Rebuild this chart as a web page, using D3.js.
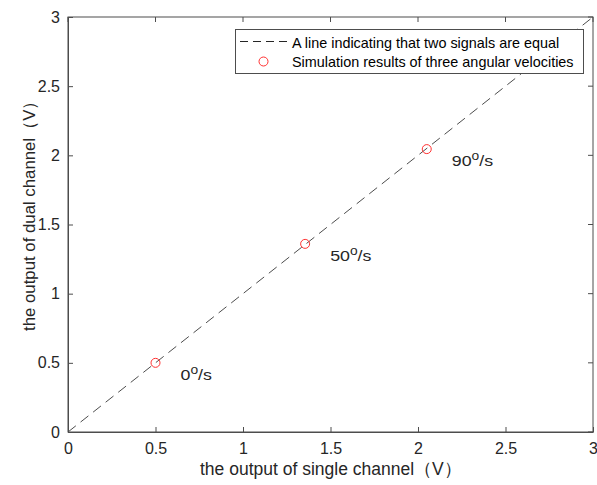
<!DOCTYPE html>
<html>
<head>
<meta charset="utf-8">
<script src="https://cdn.jsdelivr.net/npm/d3@7"></script>
<style>
  html, body { margin: 0; padding: 0; background: #fff; }
  svg { display: block; font-family: "Liberation Sans", Arial, sans-serif; }
</style>
</head>
<body>
<svg id="chart" width="597" height="485"></svg>
<script>
// Data
const xTicks = [0, 0.5, 1, 1.5, 2, 2.5, 3];
const yTicks = [0, 0.5, 1, 1.5, 2, 2.5, 3];
const equalLine = [0, 3];
const singleOutput = [0.5, 1.355, 2.05];
const dualOutput = [0.5, 1.36, 2.045];
const speedLabels = ["0", "50", "90"];
const legendLabels = ["A line indicating that two signals are equal", "Simulation results of three angular velocities"];

const svg = d3.select("#chart");
const margin = { left: 68, right: 4, top: 17, bottom: 53 };
const W = 597, H = 485;
const x = d3.scaleLinear().domain([0, 3]).range([margin.left, W - margin.right]);
const y = d3.scaleLinear().domain([0, 3]).range([H - margin.bottom, margin.top]);
const axisColor = "#4d4d4d";
const textColor = "#262626";

// Box
svg.append("rect")
  .attr("x", x(0)).attr("y", y(3))
  .attr("width", x(3) - x(0)).attr("height", y(0) - y(3))
  .attr("fill", "none").attr("stroke", axisColor).attr("stroke-width", 1);

// Axes, ticks inward
const xAxis = svg.append("g").attr("transform", `translate(0,${y(0)})`)
  .call(d3.axisBottom(x).tickValues(xTicks).tickFormat(d3.format("")).tickSizeInner(-5).tickSizeOuter(0).tickPadding(11));
const yAxis = svg.append("g").attr("transform", `translate(${x(0)},0)`)
  .call(d3.axisLeft(y).tickValues(yTicks).tickFormat(d3.format("")).tickSizeInner(-5).tickSizeOuter(0).tickPadding(8));
[xAxis, yAxis].forEach(g => {
  g.select(".domain").attr("stroke", axisColor);
  g.selectAll(".tick line").attr("stroke", axisColor);
  g.selectAll(".tick text").attr("fill", textColor).attr("font-size", 16)
    .attr("font-family", "Liberation Sans, Arial, sans-serif");
});
// top/right ticks
svg.append("g").selectAll("line").data(xTicks).join("line")
  .attr("x1", d => x(d)).attr("x2", d => x(d)).attr("y1", y(3)).attr("y2", y(3) + 5).attr("stroke", axisColor);
svg.append("g").selectAll("line").data(yTicks).join("line")
  .attr("y1", d => y(d)).attr("y2", d => y(d)).attr("x1", x(3)).attr("x2", x(3) - 5).attr("stroke", axisColor);

// Axis titles
svg.append("text").attr("x", 200).attr("y", 475)
  .attr("font-size", 17.5).attr("fill", textColor)
  .text("the output of single channel（V）");
svg.append("text").attr("transform", `translate(35,331) rotate(-90)`)
  .attr("font-size", 16.8).attr("fill", textColor)
  .text("the output of dual channel（V）");

// Equal line
svg.append("line")
  .attr("x1", x(equalLine[0])).attr("y1", y(equalLine[0]))
  .attr("x2", x(equalLine[1])).attr("y2", y(equalLine[1]))
  .attr("stroke", "#4d4d4d").attr("stroke-width", 1).attr("stroke-dasharray", "10,6");

// Points
const pts = singleOutput.map((v, i) => ({ x: v, y: dualOutput[i], label: speedLabels[i] }));
svg.append("g").selectAll("circle").data(pts).join("circle")
  .attr("cx", d => x(d.x)).attr("cy", d => y(d.y)).attr("r", 4.5)
  .attr("fill", "none").attr("stroke", "#ff3030").attr("stroke-width", 1);

// Speed labels
const lab = svg.append("g").selectAll("text").data(pts).join("text")
  .attr("transform", d => `translate(${x(d.x) + 25},${y(d.y) + 17}) scale(1.15,1)`)
  .attr("font-size", 15.5).attr("fill", textColor);
lab.append("tspan").text(d => d.label);
lab.append("tspan").attr("dy", -6).attr("font-size", 12).text("o");
lab.append("tspan").attr("dy", 6).text("/s");

// Legend
const lg = svg.append("g");
lg.append("rect").attr("x", 235.5).attr("y", 29.5).attr("width", 348).attr("height", 44)
  .attr("fill", "#fff").attr("stroke", axisColor).attr("stroke-width", 1);
lg.append("line").attr("x1", 240).attr("x2", 288).attr("y1", 41.5).attr("y2", 41.5)
  .attr("stroke", textColor).attr("stroke-dasharray", "8,5");
lg.append("circle").attr("cx", 263.5).attr("cy", 61.5).attr("r", 4.5)
  .attr("fill", "none").attr("stroke", "#ff3030");
lg.selectAll("text").data(legendLabels).join("text")
  .attr("x", 292).attr("y", (d, i) => 48 + i * 19)
  .attr("font-size", 14.4).attr("fill", "#000").text(d => d);
</script>
</body>
</html>
